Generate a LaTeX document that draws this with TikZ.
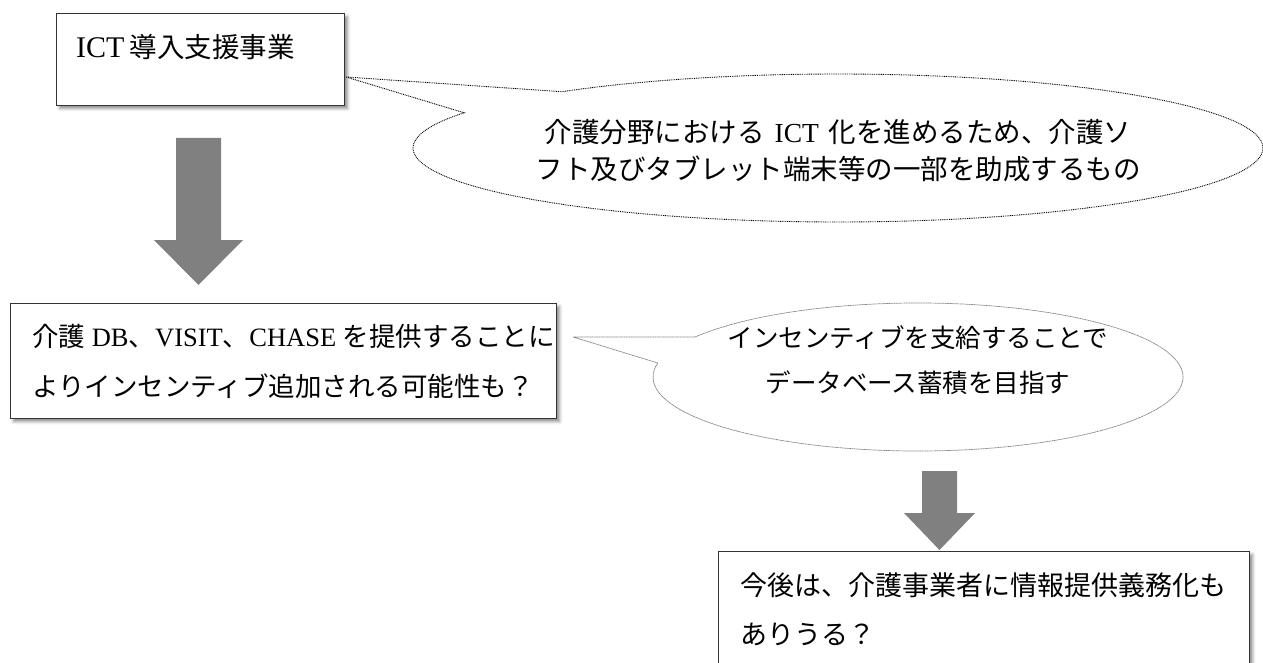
\documentclass[tikz,border=0pt]{standalone}
\usepackage{fontspec}
\setmainfont{Liberation Serif}
\newfontfamily\jp{Noto Sans CJK JP}
\usetikzlibrary{calc,shadows.blur}
\definecolor{arrowgray}{HTML}{808080}
\definecolor{boxline}{HTML}{333333}
\begin{document}
\begin{tikzpicture}[x=1pt,y=-1pt,
  box/.style={draw=boxline, line width=1.1pt, fill=white, rectangle, inner sep=0pt, anchor=north west,
    blur shadow={shadow xshift=3pt, shadow yshift=-3pt, shadow blur radius=3pt, shadow opacity=45}},
  txt/.style={anchor=base west, inner sep=0pt, font=\fontsize{26.5}{26.5}\selectfont},
  ctxt/.style={anchor=base, inner sep=0pt, font=\fontsize{27.5}{27.5}\selectfont},
  blockarrow/.style={fill=arrowgray, draw=none},
  bubbleA/.style={draw=black, line width=0.9pt, dash pattern=on 0.9pt off 0.9pt, fill=white},
  bubbleB/.style={draw=gray, line width=0.7pt, dash pattern=on 1.2pt off 0.5pt, fill=white}]
\useasboundingbox (0,0) rectangle (1263,663);

% boxes
\node[box, minimum width=288pt, minimum height=92pt] (b1) at (56,13) {};
\node[box, minimum width=546pt, minimum height=115pt] (b2) at (10,303) {};
\node[box, minimum width=531pt, minimum height=130pt] (b3) at (718,551) {};

% callout 1
\coordinate (tipA) at ($(b1.north east)+(1,64)$);
\coordinate (cA) at (838,148);
\draw[bubbleA] (tipA) -- ($(cA)+(229.5:425 and 74)$)
  arc[start angle=229.5, end angle=568.4, x radius=425, y radius=74] -- cycle;

% callout 2
\coordinate (tipB) at ($(b2.north east)+(16,34)$);
\coordinate (cB) at (918,377);
\draw[bubbleB] (tipB) -- ($(cB)+(212.8:265 and 74)$)
  arc[start angle=212.8, end angle=550.9, x radius=265, y radius=74] -- cycle;

% texts
\node[txt, font=\fontsize{30}{30}\selectfont] (t1) at (76,58) {ICT\hspace{5pt}{\jp\fontsize{27.5}{27.5}\selectfont 導入支援事業}};
\node[txt] (t2a) at (32,346) {{\jp 介護} DB{\jp 、}VISIT{\jp 、}CHASE {\jp を提供することに}};
\node[txt] (t2b) at (32,396) {{\jp よりインセンティブ追加される可能性も？}};
\node[txt, font=\fontsize{27}{27}\selectfont] (t3a) at (740,595) {{\jp 今後は、介護事業者に情報提供義務化も}};
\node[txt, font=\fontsize{27}{27}\selectfont] (t3b) at (740,644) {{\jp ありうる？}};
\node[ctxt] (qA1) at (838,143) {{\jp 介護分野における}\hspace{10pt}ICT\hspace{10pt}{\jp 化を進めるため、介護ソ}};
\node[ctxt] (qA2) at (838,180) {{\jp フト及びタブレット端末等の一部を助成するもの}};
\node[ctxt, font=\fontsize{25.5}{25.5}\selectfont] (qB1) at (918,347) {{\jp インセンティブを支給することで}};
\node[ctxt, font=\fontsize{25.5}{25.5}\selectfont] (qB2) at (918,392) {{\jp データベース蓄積を目指す}};

% block arrows
\coordinate (arA) at ($(b2.north west)+(188.5,-18)$);
\fill[blockarrow] (arA) -- ++(-44.5,-45) -- ++(22,0) -- ++(0,-102) -- ++(45,0) -- ++(0,102) -- ++(22,0) -- cycle;
\coordinate (arB) at ($(b3.north west)+(221.5,-1)$);
\fill[blockarrow] (arB) -- ++(-35.5,-37) -- ++(18,0) -- ++(0,-42) -- ++(35,0) -- ++(0,42) -- ++(18,0) -- cycle;
\end{tikzpicture}
\end{document}
